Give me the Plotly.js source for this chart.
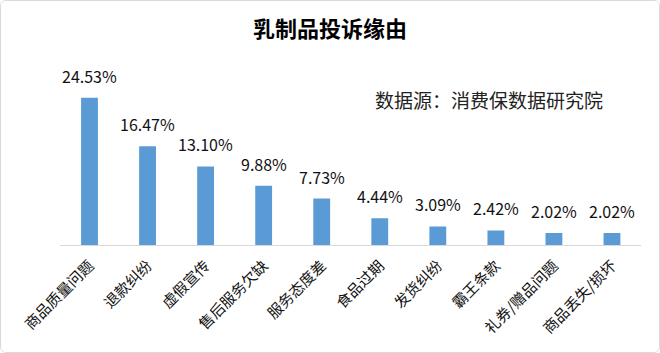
<!DOCTYPE html>
<html>
<head>
<meta charset="utf-8">
<script src="https://cdn.plot.ly/plotly-3.0.1.min.js"></script>
<style>
  html, body { margin: 0; padding: 0; background: #ffffff; }
  #wrap { width: 658px; height: 351px; border: 1px solid #d9d9d9; border-radius: 6px; overflow: hidden; }
  #chart { width: 658px; height: 351px; }
</style>
</head>
<body>
<div id="wrap"><div id="chart"></div></div>
<script>
const categories = ["商品质量问题", "退款纠纷", "虚假宣传", "售后服务欠缺", "服务态度差", "食品过期", "发货纠纷", "霸王条款", "礼券/赠品问题", "商品丢失/损坏"];
const values = [24.53, 16.47, 13.10, 9.88, 7.73, 4.44, 3.09, 2.42, 2.02, 2.02];
const titleText = "乳制品投诉缘由";
const sourceText = "数据源：消费保数据研究院";

const FONT = "'Noto Sans CJK SC', 'Microsoft YaHei', sans-serif";

const trace = {
  type: "bar",
  x: categories,
  y: values,
  marker: { color: "#5b9bd5" },
  hoverinfo: "x+y"
};

const labelAnnotations = categories.map((c, i) => ({
  x: c,
  y: values[i],
  xref: "x",
  yref: "y",
  text: values[i].toFixed(2) + "%",
  showarrow: false,
  xanchor: "center",
  yanchor: "bottom",
  yshift: 8,
  font: { family: FONT, size: 16, color: "#111111" }
}));

const layout = {
  width: 658,
  height: 351,
  margin: { l: 59, r: 18, t: 64, b: 107, pad: 0 },
  paper_bgcolor: "#ffffff",
  plot_bgcolor: "#ffffff",
  bargap: 0.71,
  showlegend: false,
  title: {
    text: "<b>" + titleText + "</b>",
    x: 0.5,
    xanchor: "center",
    xref: "container",
    y: 1 - 28 / 351,
    yanchor: "middle",
    yref: "container",
    font: { family: FONT, size: 22, color: "#000000", weight: "bold" }
  },
  xaxis: {
    type: "category",
    tickangle: -45,
    showline: true,
    linecolor: "#d9d9d9",
    linewidth: 1,
    ticks: "",
    ticklabelstandoff: 5,
    showgrid: false,
    zeroline: false,
    tickfont: { family: FONT, size: 15, color: "#111111" }
  },
  yaxis: {
    range: [0, 30],
    visible: false,
    showgrid: false,
    zeroline: false
  },
  annotations: labelAnnotations.concat([{
    xref: "paper",
    yref: "paper",
    x: 0.938,
    y: 0.806,
    xanchor: "right",
    yanchor: "middle",
    text: sourceText,
    showarrow: false,
    font: { family: FONT, size: 19, color: "#222222" }
  }])
};

Plotly.newPlot("chart", [trace], layout, { displayModeBar: false, staticPlot: true });
</script>
</body>
</html>
